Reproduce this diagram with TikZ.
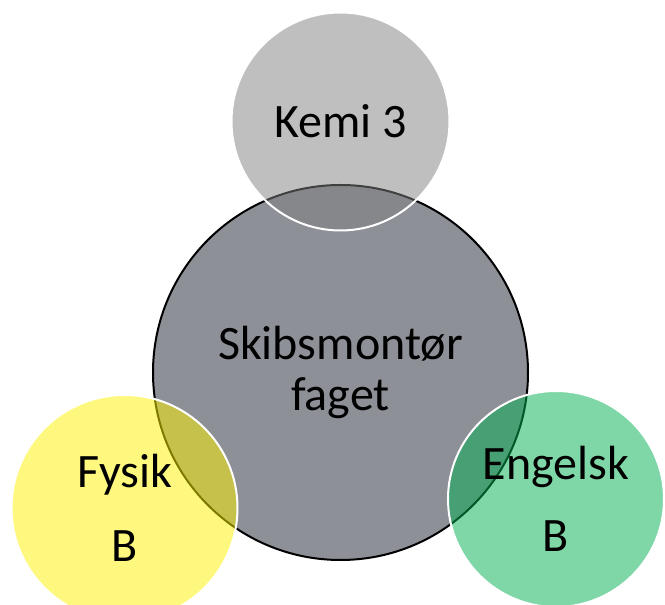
\documentclass[tikz,border=0pt]{standalone}
\usepackage{fontspec}
\setmainfont{Carlito}
\usepackage{tikz}

\definecolor{fagGrey}{RGB}{142,144,152}
\definecolor{kemiGrey}{RGB}{128,128,128}
\definecolor{engGreen}{RGB}{0,176,80}

\begin{document}
\begin{tikzpicture}[x=0.75pt, y=-0.75pt,
		venn/.style={circle, inner sep=0pt, align=center, line width=1.5pt,
			font=\fontsize{36}{38}\selectfont},
		side/.style={venn, draw=white, fill opacity=0.5, text opacity=1}]
		
		\useasboundingbox (0, 0) rectangle (665, 605);
		
		% main subject
		\node[venn, draw=black, fill=fagGrey, minimum size=281.25pt] (fag) at (340.5, 372.5) {Skibsmontør\\faget};
		
		% kemi on top
		\node[side, fill=kemiGrey, minimum size=163.5pt] (kemi) at (340.5, 121.5) {Kemi 3};
		
		% fysik bottom left
		\node[side, fill=yellow, minimum size=169.5pt,
			font=\fontsize{36}{55}\selectfont] (fysik) at (124.5, 508) {Fysik\\B};
		
		% engelsk bottom right
		\node[side, fill=engGreen, minimum size=162pt,
			font=\fontsize{36}{54}\selectfont] (engelsk) at (556, 499) {Engelsk\\B};
		
	\end{tikzpicture}
\end{document}
